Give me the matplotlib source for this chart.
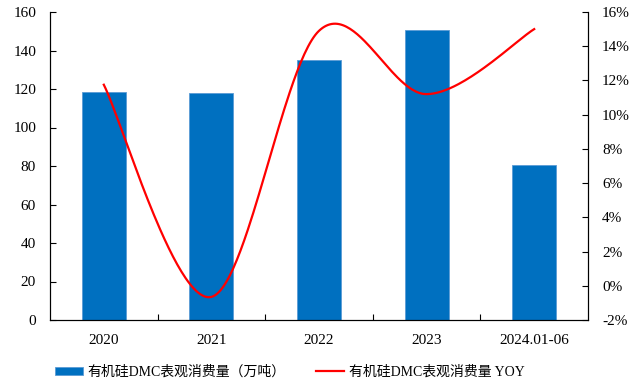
import numpy as np
import matplotlib
matplotlib.use("Agg")
import matplotlib.pyplot as plt
from matplotlib.ticker import FuncFormatter

plt.rcParams['font.family'] = ['Liberation Serif', 'Noto Sans CJK SC']

categories = ['2020', '2021', '2022', '2023', '2024.01-06']
consumption = [118.6, 117.8, 135.3, 150.4, 80.6]   # 万吨
yoy = [11.75, -0.65, 14.9, 11.2, 15.0]              # %

bar_label = '有机硅DMC表观消费量（万吨）'
line_label = '有机硅DMC表观消费量 YOY'


def smooth(xs, ys, n=60):
    # Catmull-Rom style bezier, same kind of smoothing as office charts
    xs = np.asarray(xs, float)
    ys = np.asarray(ys, float)
    pts = np.column_stack([xs, ys])
    out = []
    for i in range(len(pts) - 1):
        p0 = pts[max(i - 1, 0)]
        p1 = pts[i]
        p2 = pts[i + 1]
        p3 = pts[min(i + 2, len(pts) - 1)]
        c1 = p1 + (p2 - p0) / 6
        c2 = p2 - (p3 - p1) / 6
        t = np.linspace(0, 1, n)[:, None]
        seg = ((1 - t) ** 3) * p1 + 3 * ((1 - t) ** 2) * t * c1 + 3 * (1 - t) * t ** 2 * c2 + t ** 3 * p2
        out.append(seg if i == 0 else seg[1:])
    out = np.vstack(out)
    return out[:, 0], out[:, 1]


fig = plt.figure(figsize=(6.44, 3.85), dpi=100)
ax = fig.add_axes([50 / 644, 1 - 320 / 385, 538 / 644, 308 / 385])
x = np.arange(len(categories))

bars = ax.bar(x, consumption, width=0.41, color='#0070C0', edgecolor='#5B9BD5',
              linewidth=0.6, label=bar_label, zorder=2)
ax.set_xlim(-0.5, len(categories) - 0.5)
ax.set_ylim(0, 160)
ax.set_yticks(range(0, 161, 20))
ax.set_xticks(x)
ax.set_xticklabels(categories)
ax.set_xticks(np.arange(0.5, len(categories) - 1, 1), minor=True)
ax.tick_params(axis='x', which='major', length=0, pad=10, labelsize=11)
ax.tick_params(axis='x', which='minor', direction='in', length=4, width=0.8)
ax.tick_params(axis='y', direction='in', length=4, width=0.8, labelsize=11, pad=10)
ax.spines['top'].set_visible(False)
for s in ['left', 'bottom', 'right']:
    ax.spines[s].set_linewidth(0.8)

ax2 = ax.twinx()
sx, sy = smooth(x, np.array(yoy) / 100)
line, = ax2.plot(sx, sy, color='#FF0000', lw=1.6, label=line_label, zorder=3)
ax2.set_ylim(-0.02, 0.16)
ax2.set_yticks(np.arange(-0.02, 0.161, 0.02))
ax2.yaxis.set_major_formatter(FuncFormatter(lambda v, _: f'{v * 100:.0f}%'))
ax2.tick_params(axis='y', direction='in', length=4, width=0.8, labelsize=11, pad=10)
ax2.spines['top'].set_visible(False)
ax2.spines['right'].set_linewidth(0.8)

fig.legend([bars, line], [bar_label, line_label], loc='center',
           bbox_to_anchor=(290 / 644, 1 - 372 / 385), ncol=2, frameon=False,
           fontsize=10, handlelength=2.0, handleheight=0.55, columnspacing=2.2,
           handletextpad=0.35)

fig.savefig('out.png', dpi=100)
